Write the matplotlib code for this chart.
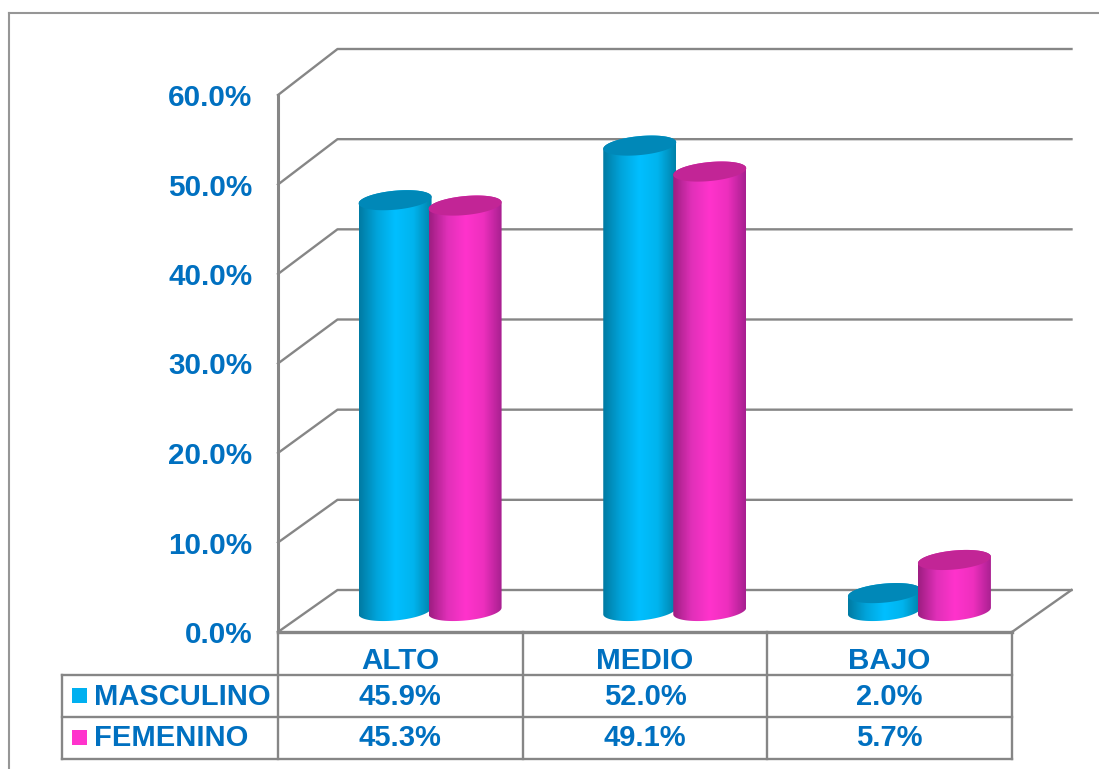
import numpy as np
import matplotlib
matplotlib.use("Agg")
import matplotlib.pyplot as plt
from matplotlib.colors import LinearSegmentedColormap
from matplotlib.patches import Polygon, Rectangle

categories = ["ALTO", "MEDIO", "BAJO"]
series_names = ["MASCULINO", "FEMENINO"]
masculino = [45.9, 52.0, 2.0]
femenino = [45.3, 49.1, 5.7]
y_ticks = [0, 10, 20, 30, 40, 50, 60]

W, H = 1099, 769
GREY = "#868686"
TEXT = "#0070C0"
plt.rcParams["font.family"] = ["Liberation Sans", "DejaVu Sans"]
plt.rcParams["font.weight"] = "bold"

# plano frontal del grafico en pixeles
X0, X1, Y0, Y60 = 278, 1012, 632, 95
KX = 3 / (X1 - X0)   # unidades de categoria por pixel
KY = 60 / (Y0 - Y60)  # puntos porcentuales por pixel
DX, DY = 59.5 * KX, 42 * KY  # profundidad
BACK_SCALE = 541 / 537  # el plano trasero es algo mas alto


def fx(px):
    return (px - X0) * KX


def fy(py):
    return (Y0 - py) * KY


fig = plt.figure(figsize=(W / 100, H / 100), dpi=100)
ax = fig.add_axes([X0 / W, 1 - Y0 / H, (X1 - X0) / W, (Y0 - Y60) / H])
ax.patch.set_alpha(0)


def line(xs, ys, lw=1.7, color=GREY, z=1):
    ax.plot(xs, ys, color=color, lw=lw, clip_on=False, zorder=z, solid_capstyle="projecting")


# marco exterior
line([fx(9), fx(9)], [fy(769), fy(13)], lw=1.5, color="#969696")
line([fx(9), fx(1099)], [fy(13), fy(13)], lw=1.5, color="#969696")

# rejilla con profundidad
for v in y_ticks:
    back = v * BACK_SCALE + DY
    line([0, DX, 3 + DX], [v, back, back])
line([3, 3 + DX], [0, DY])

# tabla de datos
rows = [632, 675, 717, 759]
line([fx(62), 3], [fy(rows[1]), fy(rows[1])])
line([fx(62), 3], [fy(rows[2]), fy(rows[2])])
line([fx(62), 3], [fy(rows[3]), fy(rows[3])])
line([fx(62), fx(62)], [fy(rows[1]), fy(rows[3])])
for c in [0, 1, 2, 3]:
    line([c, c], [0, fy(rows[3])])
line([0, 0], [60, 0], lw=2.2)
line([0, 3], [0, 0], lw=2.4)

blue_map = LinearSegmentedColormap.from_list("b", ["#007BA3", "#00A5DC", "#00BFFF", "#00B4EE", "#0082AA"])
pink_map = LinearSegmentedColormap.from_list("p", ["#9E1E82", "#E030B8", "#FF33CC", "#EE2FBE", "#A82090"])
TOP_COLORS = ["#0088B8", "#C22596"]


def cylinder(center, value, cmap, top_color, z):
    a, b, s = 36.5, 9.5, 0.09
    base = fy(611)
    v = base + value
    t = np.linspace(0, np.pi, 60)
    # extremos del corte oblicuo en t=0 y t=pi
    ex = lambda tt: center + a * KX * np.cos(tt)
    ey = lambda tt, h: h + (b * np.sin(tt) + s * a * np.cos(tt)) * KY
    upper = np.column_stack([ex(t), ey(t, v)])
    lower = np.column_stack([ex(t + np.pi), ey(t + np.pi, base)])
    body = Polygon(np.vstack([upper, lower]), closed=True, transform=ax.transData, fc="none", ec="none")
    ax.add_patch(body)
    im = ax.imshow(np.linspace(0, 1, 100).reshape(1, -1), cmap=cmap, aspect="auto", interpolation="bilinear",
                   extent=[center - a * KX, center + a * KX, base - 12 * KY, v + 12 * KY], zorder=z)
    im.set_clip_path(body)
    tt = np.linspace(0, 2 * np.pi, 120)
    ax.add_patch(Polygon(np.column_stack([ex(tt), ey(tt, v)]), closed=True, fc=top_color, ec="none", zorder=z + 0.5))


for i in range(len(categories)):
    center = i + 0.5 + DX / 2
    cylinder(center - 35 * KX, masculino[i], blue_map, TOP_COLORS[0], 3)
    cylinder(center + 35 * KX, femenino[i], pink_map, TOP_COLORS[1], 4)

ax.set_xlim(0, 3)
ax.set_ylim(0, 60)
for sp in ax.spines.values():
    sp.set_visible(False)
ax.set_yticks(y_ticks)
ax.set_yticklabels(["%.1f%%" % v for v in y_ticks])
ax.set_xticks([0.5, 1.5, 2.5])
ax.set_xticklabels(categories)
ax.tick_params(axis="y", length=0, pad=18.5, labelsize=21.3, labelcolor=TEXT)
ax.tick_params(axis="x", length=0, pad=11, labelsize=21.3, labelcolor=TEXT)

# filas de valores y leyenda
row_y = [fy(697), fy(738)]
for name, vals, color, yy, marker_y in zip(series_names, [masculino, femenino], ["#00B0F0", "#FF33CC"], row_y, [695, 737]):
    ax.add_patch(Rectangle((fx(72), fy(marker_y + 7.5)), 15 * KX, 15 * KY, fc=color, ec="none", clip_on=False))
    ax.text(fx(94), yy, name, color=TEXT, fontsize=21, va="center", ha="left", clip_on=False)
    for i, val in enumerate(vals):
        ax.text(i + 0.5, yy, "%.1f%%" % val, color=TEXT, fontsize=21, va="center", ha="center", clip_on=False)

fig.savefig("out.png", dpi=100, facecolor="white")
